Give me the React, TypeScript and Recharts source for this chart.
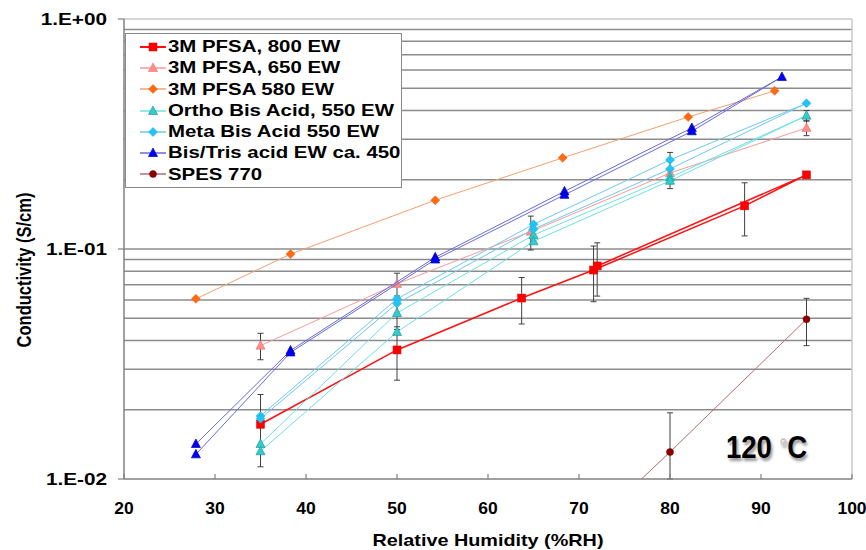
import React from 'react';
import {
  ScatterChart,
  Scatter,
  XAxis,
  YAxis,
  CartesianGrid,
  ReferenceLine,
  ErrorBar
} from 'recharts';

// axis ticks
const rhTicks = [20, 30, 40, 50, 60, 70, 80, 90, 100];
const condTicks = [0.01, 0.1, 1];
const condTickLabels: Record<string, string> = { '0.01': '1.E-02', '0.1': '1.E-01', '1': '1.E+00' };
const gridValues = [0.02, 0.03, 0.04, 0.05, 0.06, 0.07, 0.08, 0.09, 0.1, 0.2, 0.3, 0.4, 0.5, 0.6, 0.7, 0.8, 0.9];

// 3M PFSA, 800 EW (line goes back to the 72 %RH point)
const rh800 = [35, 50, 63.7, 71.6, 88.2, 95, 72];
const s800 = [0.0173, 0.0364, 0.0612, 0.081, 0.154, 0.21, 0.0844];
const err800 = [0.006, 0.0095, 0.014, 0.022, 0.04, null, 0.022];

// 3M PFSA, 650 EW
const rh650 = [35, 50, 64.7, 80, 95];
const s650 = [0.038, 0.0705, 0.119, 0.214, 0.336];
const err650 = [0.005, 0.008, 0.02, null, 0.025];

// 3M PFSA 580 EW
const rh580 = [27.9, 38.3, 54.2, 68.2, 82, 91.5];
const s580 = [0.0607, 0.095, 0.163, 0.249, 0.375, 0.487];

// Ortho Bis Acid, 550 EW (up and down runs)
const rhOrtho = [35, 50, 65, 80, 95, 80, 65, 50, 35];
const sOrtho = [0.0142, 0.0527, 0.115, 0.205, 0.38, 0.198, 0.108, 0.0436, 0.0132];
const errOrtho = [null, 0.008, null, null, 0.02, null, null, null, null];

// Meta Bis Acid 550 EW
const rhMeta = [35, 50, 65, 80, 95, 80, 65, 50, 35];
const sMeta = [0.0188, 0.0607, 0.128, 0.244, 0.43, 0.223, 0.122, 0.058, 0.0183];
const errMeta = [null, null, null, null, null, 0.04, null, null, null];

// Bis/Tris acid EW ca. 450
const rhBis = [27.9, 38.3, 54.2, 68.4, 82.4, 92.3, 82.4, 68.4, 54.2, 38.3, 27.9];
const sBis = [0.0142, 0.0362, 0.092, 0.178, 0.336, 0.56, 0.325, 0.172, 0.09, 0.0355, 0.0128];

// SPES 770 (error as [below, above])
const rhSpes = [65, 80, 95];
const sSpes = [0.0036, 0.0131, 0.0495];
const errSpes: (number | number[] | null)[] = [null, [0.0031, 0.0063], 0.0115];

type Pt = { rh: number; s: number; err?: number | number[] };
const zip = (rh: number[], s: number[], err?: (number | number[] | null)[]): Pt[] =>
  rh.map((x, i) => {
    const e = err ? err[i] : null;
    return e == null ? { rh: x, s: s[i] } : { rh: x, s: s[i], err: e };
  });

type Kind = 'square' | 'triangle' | 'diamond' | 'circle';

const series = [
  { name: '3M PFSA, 800 EW', data: zip(rh800, s800, err800), kind: 'square' as Kind, fill: '#ff0000', stroke: '#e00000', line: '#ff1010', lw: 1.5, err: true },
  { name: '3M PFSA, 650 EW', data: zip(rh650, s650, err650), kind: 'triangle' as Kind, fill: '#ff8c8c', stroke: '#f07a7a', line: '#f79a9a', lw: 1, err: true },
  { name: '3M PFSA 580 EW', data: zip(rh580, s580), kind: 'diamond' as Kind, fill: '#ff6a10', stroke: '#f06010', line: '#f4a070', lw: 1, err: false },
  { name: 'Ortho Bis Acid, 550 EW', data: zip(rhOrtho, sOrtho, errOrtho), kind: 'triangle' as Kind, fill: '#33cccc', stroke: '#1f9a9a', line: '#6fe0e0', lw: 1, err: true },
  { name: 'Meta Bis Acid 550 EW', data: zip(rhMeta, sMeta, errMeta), kind: 'diamond' as Kind, fill: '#22c4f4', stroke: '#18b0e0', line: '#6cc8f0', lw: 1, err: true },
  { name: 'Bis/Tris acid EW ca. 450', data: zip(rhBis, sBis), kind: 'triangle' as Kind, fill: '#0000ee', stroke: '#0000cc', line: '#6a6ad8', lw: 1, err: false },
  { name: 'SPES 770', data: zip(rhSpes, sSpes, errSpes), kind: 'circle' as Kind, fill: '#8b0000', stroke: '#7a0000', line: '#a87070', lw: 1, err: true }
];

const FONT = '"Liberation Sans", Arial, sans-serif';

const markerPath = (kind: Kind, cx: number, cy: number, fill: string, stroke: string) => {
  switch (kind) {
    case 'square':
      return <rect x={cx - 4} y={cy - 4} width={8} height={8} fill={fill} stroke={stroke} strokeWidth={0.5} />;
    case 'triangle':
      return (
        <polygon
          points={`${cx},${cy - 5} ${cx + 4.5},${cy + 3.5} ${cx - 4.5},${cy + 3.5}`}
          fill={fill}
          stroke={stroke}
          strokeWidth={0.7}
        />
      );
    case 'diamond':
      return (
        <polygon
          points={`${cx},${cy - 4.5} ${cx + 4.5},${cy} ${cx},${cy + 4.5} ${cx - 4.5},${cy}`}
          fill={fill}
          stroke={stroke}
          strokeWidth={0.5}
        />
      );
    default:
      return <circle cx={cx} cy={cy} r={3.5} fill={fill} stroke={stroke} strokeWidth={0.5} />;
  }
};

const makeShape = (kind: Kind, fill: string, stroke: string) => (props: any) => {
  const { cx, cy } = props;
  if (cx == null || cy == null || isNaN(cx) || isNaN(cy)) return <g />;
  return markerPath(kind, cx, cy, fill, stroke);
};

const XTick = (props: any) => {
  const { x, y, payload } = props;
  return (
    <g>
      <line x1={x} x2={x} y1={y - 5} y2={y} stroke="#808080" strokeWidth={1.2} />
      <text
        transform={`translate(${x}, ${y + 35}) scale(1.06, 1)`}
        textAnchor="middle"
        fontFamily={FONT}
        fontWeight="bold"
        fontSize={16.5}
        fill="#000"
      >
        {payload.value}
      </text>
    </g>
  );
};

const YTick = (props: any) => {
  const { x, y, payload } = props;
  return (
    <text
      transform={`translate(${x - 11}, ${y + 6}) scale(1.22, 1)`}
      textAnchor="end"
      fontFamily={FONT}
      fontWeight="bold"
      fontSize={17}
      fill="#000"
    >
      {condTickLabels[String(payload.value)]}
    </text>
  );
};

const XTitle = () => (
  <text
    transform="translate(488, 546) scale(1.2, 1)"
    textAnchor="middle"
    fontFamily={FONT}
    fontWeight="bold"
    fontSize={16.5}
    fill="#000"
  >
    Relative Humidity (%RH)
  </text>
);

const YTitle = () => (
  <text
    transform="translate(31, 270) rotate(-90) scale(1, 1.2)"
    textAnchor="middle"
    fontFamily={FONT}
    fontWeight="bold"
    fontSize={16.5}
    fill="#000"
  >
    Conductivity (S/cm)
  </text>
);

const LegendBox = () => (
  <div
    style={{
      position: 'absolute',
      left: 125,
      top: 33,
      width: 277,
      height: 155,
      boxSizing: 'border-box',
      border: '1px solid #8a8a8a',
      background: '#fff',
      paddingTop: 2
    }}
  >
    {series.map((s) => (
      <div key={s.name} style={{ display: 'flex', alignItems: 'center', height: 21.3 }}>
        <svg width={26} height={12} style={{ marginLeft: 14, marginRight: 2 }}>
          <line x1={0} x2={26} y1={6} y2={6} stroke={s.line} strokeWidth={s.lw + 0.5} />
          {markerPath(s.kind, 13, 6, s.fill, s.stroke)}
        </svg>
        <span
          style={{
            display: 'inline-block',
            transform: 'scaleX(1.2)',
            transformOrigin: 'left center',
            fontFamily: FONT,
            fontWeight: 'bold',
            fontSize: 17,
            lineHeight: '21.3px',
            whiteSpace: 'nowrap',
            color: '#000'
          }}
        >
          {s.name}
        </span>
      </div>
    ))}
  </div>
);

const App: React.FC = () => {
  return (
    <div style={{ position: 'absolute', left: 0, top: 0, width: 866, height: 550, background: '#fff' }}>
      <ScatterChart width={866} height={550} margin={{ top: 19, right: 14, bottom: 21, left: 24 }}>
        <CartesianGrid horizontalValues={gridValues} vertical={false} stroke="#8c8c8c" strokeWidth={1.5} />
        <ReferenceLine y={1} stroke="#c8c8c8" strokeWidth={1.5} />
        <ReferenceLine x={100} stroke="#c8c8c8" strokeWidth={1.5} />
        <XAxis
          type="number"
          dataKey="rh"
          domain={[20, 100]}
          ticks={rhTicks}
          interval={0}
          height={50}
          tickSize={0}
          tickMargin={0}
          tickLine={false}
          axisLine={{ stroke: '#808080', strokeWidth: 1.5 }}
          tick={<XTick />}
          label={{ content: () => <XTitle /> }}
        />
        <YAxis
          type="number"
          dataKey="s"
          scale="log"
          domain={[0.01, 1]}
          allowDataOverflow
          ticks={condTicks}
          interval={0}
          width={100}
          tickSize={6}
          tickMargin={0}
          tickLine={{ stroke: '#808080', strokeWidth: 1.2 }}
          axisLine={{ stroke: '#808080', strokeWidth: 1.5 }}
          tick={<YTick />}
          label={{ content: () => <YTitle /> }}
        />
        {series.map((s) => (
          <Scatter
            key={s.name}
            name={s.name}
            data={s.data}
            fill={s.fill}
            line={{ stroke: s.line, strokeWidth: s.lw }}
            shape={makeShape(s.kind, s.fill, s.stroke)}
            isAnimationActive={false}
          >
            {s.err && <ErrorBar dataKey="err" direction="y" width={3} stroke="#404040" strokeWidth={1} />}
          </Scatter>
        ))}
      </ScatterChart>
      <LegendBox />
      <div
        style={{
          position: 'absolute',
          left: 726,
          top: 431,
          fontFamily: FONT,
          fontWeight: 'bold',
          fontSize: 32,
          lineHeight: '32px',
          whiteSpace: 'nowrap',
          transform: 'scaleX(0.86)',
          transformOrigin: 'left center',
          textShadow: '2px 3px 3px #9a9a9a',
          color: '#000'
        }}
      >
        120 <span style={{ color: '#c8c8c8', fontSize: 22, verticalAlign: 'top' }}>°</span>C
      </div>
    </div>
  );
};

export default App;
